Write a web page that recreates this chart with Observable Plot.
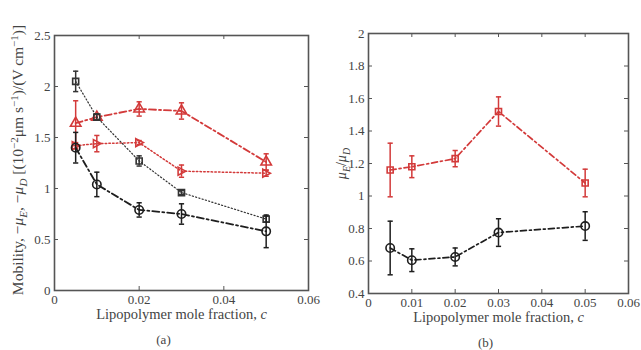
<!DOCTYPE html>
<html>
<head>
<meta charset="utf-8">
<script src="https://cdn.jsdelivr.net/npm/d3@7"></script>
<script src="https://cdn.jsdelivr.net/npm/@observablehq/plot@0.6"></script>
<style>
  body { margin: 0; background: #fff; }
  #fig { position: relative; width: 641px; height: 350px; background: #fff; }
  #fig > svg { position: absolute; top: 0; }
</style>
</head>
<body>
<div id="fig"></div>
<script>
// ---------- data ----------
const c = [0.005, 0.01, 0.02, 0.03, 0.05];

// panel (a): mobility
const sqY   = [2.05, 1.70, 1.27, 0.96, 0.70];
const sqE   = [0.10, 0.03, 0.05, 0.02, 0.03];
const ciY   = [1.40, 1.04, 0.79, 0.75, 0.58];
const ciE   = [0.15, 0.12, 0.07, 0.10, 0.16];
const upY   = [1.64, 1.70, 1.78, 1.76, 1.26];
const upE   = [0.22, 0.03, 0.07, 0.08, 0.08];
const rtY   = [1.42, 1.44, 1.45, 1.17, 1.15];
const rtE   = [0.03, 0.08, 0.02, 0.06, 0.03];

// panel (b): ratio
const redY   = [1.16, 1.18, 1.23, 1.52, 1.08];
const redE   = [0.165, 0.067, 0.05, 0.09, 0.085];
const blackY = [0.68, 0.605, 0.625, 0.775, 0.815];
const blackE = [0.165, 0.07, 0.055, 0.085, 0.088];

const xTicksA = [0, 0.02, 0.04, 0.06];
const yTicksA = [0, 0.5, 1, 1.5, 2, 2.5];
const xTicksB = [0, 0.01, 0.02, 0.03, 0.04, 0.05, 0.06];
const yTicksB = [0.4, 0.6, 0.8, 1, 1.2, 1.4, 1.6, 1.8, 2];

const xLabelText = "Lipopolymer mole fraction, c";
const yLabelA = "MOBILITY_LABEL";
const yLabelB = "RATIO_LABEL";

// ---------- styles ----------
const RED = "#d33a3a";
const BLACK = "#1e1e1e";
const FONT = "'Liberation Serif', 'DejaVu Serif', serif";
const TEXT = "#444";
const FRAME = "#555";

const rightTri = {draw(ctx, size) {
  const r = Math.sqrt(size / Math.PI);
  ctx.moveTo(-r * 0.85, -r); ctx.lineTo(r * 1.05, 0); ctx.lineTo(-r * 0.85, r); ctx.closePath();
}};
const cap = {draw(ctx, size) {
  const r = Math.sqrt(size / Math.PI);
  ctx.moveTo(-r, 0); ctx.lineTo(r, 0);
}};

function rows(ys, es) { return c.map((x, i) => ({x, y: ys[i], lo: ys[i] - es[i], hi: ys[i] + es[i]})); }

function seriesMarks(s) {
  const d = rows(s.y, s.e);
  return [
    Plot.line(d, {x: "x", y: "y", stroke: s.color, strokeWidth: s.lw, strokeDasharray: s.dash}),
    Plot.ruleX(d, {x: "x", y1: "lo", y2: "hi", stroke: s.color, strokeWidth: 1.5}),
    Plot.dot(d, {x: "x", y: "lo", symbol: cap, r: 2.6, stroke: s.color, strokeWidth: 1.5}),
    Plot.dot(d, {x: "x", y: "hi", symbol: cap, r: 2.6, stroke: s.color, strokeWidth: 1.5}),
    Plot.dot(d, {x: "x", y: "y", symbol: s.symbol, r: s.r, stroke: s.color, fill: s.fill || "none", strokeWidth: 1.6})
  ];
}

function panel(o) {
  const fw = o.width - o.ml - o.mr, fh = o.height - o.mt - o.mb;
  const marks = [];
  for (const s of o.series) marks.push(...seriesMarks(s));
  marks.push(
    Plot.tickX(o.xTicks, {x: d => d, insetTop: fh - 4, stroke: FRAME, strokeWidth: 1}),
    Plot.tickX(o.xTicks, {x: d => d, insetBottom: fh - 4, stroke: FRAME, strokeWidth: 1}),
    Plot.tickY(o.yTicks, {y: d => d, insetRight: fw - 4, stroke: FRAME, strokeWidth: 1}),
    Plot.tickY(o.yTicks, {y: d => d, insetLeft: fw - 4, stroke: FRAME, strokeWidth: 1}),
    Plot.frame({stroke: FRAME, strokeWidth: 1.6}),
    Plot.axisX({ticks: o.xTicks, tickSize: 0, tickPadding: 4, tickFormat: d => String(d), label: null, fontSize: 13}),
    Plot.axisY({ticks: o.yTicks, tickSize: 0, tickPadding: 4, tickFormat: d => String(d), label: null, fontSize: 13}),
    Plot.text([xLabelText], {frameAnchor: "bottom", textAnchor: "middle", dy: 28, fontSize: 14.5, fill: TEXT}),
    Plot.text([o.tag], {frameAnchor: "bottom", textAnchor: "middle", dx: o.tagDx, dy: 53, fontSize: 13, fill: TEXT}),
    Plot.text([o.yLabel], {frameAnchor: "left", textAnchor: "middle", dx: o.yLabelDx, dy: o.yLabelDy || 0, rotate: -90, fontSize: o.yLabelSize, fill: TEXT})
  );
  return Plot.plot({
    width: o.width, height: o.height,
    marginTop: o.mt, marginRight: o.mr, marginBottom: o.mb, marginLeft: o.ml,
    x: {domain: o.xDomain},
    y: {domain: o.yDomain},
    style: {fontFamily: FONT, fontSize: "13px", color: TEXT, background: "transparent", overflow: "visible"},
    marks
  });
}

const svgA = panel({
  width: 320, height: 350, mt: 35, mr: 12, mb: 60, ml: 54,
  xDomain: [0, 0.06], yDomain: [0, 2.5], xTicks: xTicksA, yTicks: yTicksA,
  tag: "(a)", tagDx: -18, yLabel: yLabelA, yLabelDx: -36, yLabelDy: -3, yLabelSize: 15.5,
  series: [
    {y: rtY, e: rtE, color: RED, lw: 1.5, dash: "1.5,2.2", symbol: rightTri, r: 4.0},
    {y: upY, e: upE, color: RED, lw: 1.8, dash: "7,3,2,3", symbol: "triangle", r: 3.9},
    {y: sqY, e: sqE, color: "#333", lw: 1.2, dash: "1.2,2.2", symbol: "square", r: 3.4},
    {y: ciY, e: ciE, color: BLACK, lw: 1.8, dash: "7,3,2,3", symbol: "circle", r: 4.2}
  ]
});
const svgB = panel({
  width: 321, height: 350, mt: 33, mr: 13, mb: 57, ml: 48,
  xDomain: [0, 0.06], yDomain: [0.4, 2], xTicks: xTicksB, yTicks: yTicksB,
  tag: "(b)", tagDx: -13, yLabel: yLabelB, yLabelDx: -27, yLabelDy: 0, yLabelSize: 14,
  series: [
    {y: redY, e: redE, color: RED, lw: 1.7, dash: "6,3,2,3", symbol: "square", r: 3.4},
    {y: blackY, e: blackE, color: BLACK, lw: 1.7, dash: "6,3,2,3", symbol: "circle", r: 4.2}
  ]
});
svgA.style.left = "0px";
svgB.style.left = "320px";
const fig = document.getElementById("fig");
fig.appendChild(svgA);
fig.appendChild(svgB);

// ---------- rich text labels ----------
const NS = "http://www.w3.org/2000/svg";
function setRich(node, parts, subSize) {
  node.textContent = "";
  let shift = 0;
  for (const p of parts) {
    const ts = document.createElementNS(NS, "tspan");
    const target = p.sub ? 4 : p.sup ? -5 : 0;
    if (target !== shift) { ts.setAttribute("dy", target - shift); shift = target; }
    if (p.sub || p.sup) ts.setAttribute("font-size", subSize || "10.5px");
    if (p.it) ts.setAttribute("font-style", "italic");
    ts.textContent = p.t;
    node.appendChild(ts);
  }
}
function findText(svg, s) {
  return d3.select(svg).selectAll("text").filter(function() { return this.textContent === s; }).nodes();
}
for (const svg of [svgA, svgB]) {
  for (const n of findText(svg, xLabelText)) setRich(n, [{t: "Lipopolymer mole fraction, "}, {t: "c", it: true}]);
}
for (const n of findText(svgA, yLabelA)) setRich(n, [
  {t: "Mobility, −"}, {t: "μ", it: true}, {t: "E", sub: true, it: true}, {t: ", −"}, {t: "μ", it: true}, {t: "D", sub: true, it: true},
  {t: " [(10"}, {t: "−2", sup: true}, {t: "μm s"}, {t: "−1", sup: true}, {t: ")/(V cm"}, {t: "−1", sup: true}, {t: ")]"}
], "11px");
for (const n of findText(svgB, yLabelB)) setRich(n, [
  {t: "μ", it: true}, {t: "E", sub: true, it: true}, {t: "/"}, {t: "μ", it: true}, {t: "D", sub: true, it: true}
], "10px");
</script>
</body>
</html>
